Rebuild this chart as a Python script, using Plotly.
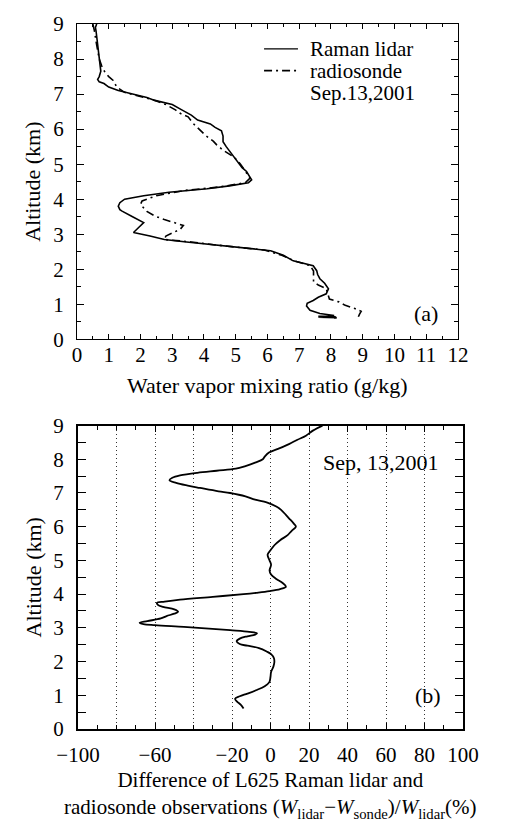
import plotly.graph_objects as go
from plotly.subplots import make_subplots

# ---- Panel (a): water vapor mixing ratio profiles ----
lidar_alt = [9.0, 8.9, 8.8, 8.6, 8.4, 8.2, 8.0, 7.8, 7.65, 7.5, 7.42, 7.35, 7.3, 7.2, 7.1,
             7.0, 6.9, 6.82, 6.7, 6.55, 6.4, 6.26, 6.15, 6.05, 5.95, 5.8, 5.64, 5.5, 5.36,
             5.2, 5.07, 4.9, 4.79, 4.65, 4.55, 4.47, 4.38, 4.3, 4.2, 4.1, 4.0, 3.9, 3.8,
             3.7, 3.66, 3.5, 3.33, 3.2, 3.05, 2.95, 2.85, 2.78, 2.72, 2.65, 2.58, 2.53,
             2.4, 2.24, 2.1, 1.96, 1.85, 1.73, 1.6, 1.44, 1.3, 1.2, 1.11, 1.03, 0.95,
             0.83, 0.74, 0.68, 0.66, 0.64, 0.63, 0.62, 0.61, 0.6]
lidar_wv = [0.62, 0.58, 0.60, 0.63, 0.66, 0.68, 0.70, 0.73, 0.75, 0.70, 0.65, 0.70, 0.85, 1.0, 1.3,
            1.75, 2.2, 2.45, 3.0, 3.3, 3.6, 3.8, 4.2, 4.35, 4.55, 4.6, 4.6, 4.7, 4.82,
            4.95, 5.05, 5.2, 5.34, 5.45, 5.5, 5.4, 4.8, 4.1, 2.9, 2.1, 1.5, 1.35, 1.3,
            1.35, 1.42, 1.75, 2.1, 1.95, 1.78, 2.3, 2.75, 3.45, 4.1, 4.9, 5.45, 6.1,
            6.5, 6.81, 7.44, 7.55, 7.58, 7.65, 7.8, 7.92, 7.85, 7.6, 7.44, 7.25, 7.23,
            7.34, 7.65, 8.1, 7.6, 8.15, 7.6, 8.18, 7.6, 8.1]

sonde_alt = [9.0, 8.8, 8.5, 8.2, 8.0, 7.8, 7.62, 7.5, 7.39, 7.2, 7.05, 6.95, 6.85, 6.7,
             6.55, 6.45, 6.35, 6.17, 6.0, 5.81, 5.65, 5.55, 5.4, 5.2, 5.0, 4.8, 4.6,
             4.47, 4.35, 4.25, 4.1, 3.95, 3.85, 3.65, 3.52, 3.42, 3.34, 3.25, 3.14,
             3.05, 2.95, 2.85, 2.78, 2.7, 2.62, 2.55, 2.4, 2.24, 2.1, 1.95, 1.8, 1.65,
             1.55, 1.45, 1.3, 1.15, 1.07, 0.97, 0.88, 0.8, 0.72, 0.64]
sonde_wv = [0.5, 0.55, 0.6, 0.65, 0.7, 0.78, 0.88, 1.0, 1.14, 1.25, 1.5, 1.9, 2.35, 2.8,
            3.1, 3.25, 3.5, 3.65, 3.85, 4.06, 4.3, 4.4, 4.6, 4.95, 5.15, 5.3, 5.45,
            5.3, 4.5, 3.4, 2.5, 2.05, 2.0, 2.2, 2.45, 2.75, 3.0, 3.35, 3.25,
            3.05, 2.8, 2.75, 3.6, 4.3, 5.2, 5.9, 6.45, 6.85, 7.35, 7.45, 7.45, 7.45,
            7.6, 7.85, 7.9, 7.95, 8.25, 8.45, 8.75, 8.95, 8.9, 8.86]

# ---- Panel (b): relative difference (%) ----
diff_alt = [9.0, 8.85, 8.7, 8.58, 8.45, 8.3, 8.2, 8.08, 8.0, 7.9, 7.8, 7.72, 7.66, 7.6,
            7.52, 7.45, 7.38, 7.3, 7.22, 7.15, 7.05, 7.0, 6.9, 6.8, 6.72, 6.6, 6.5,
            6.35, 6.25, 6.1, 6.0, 5.88, 5.75, 5.6, 5.45, 5.3, 5.17, 5.0, 4.87, 4.7,
            4.58, 4.45, 4.33, 4.22, 4.15, 4.09, 4.04, 4.0, 3.92, 3.84, 3.78, 3.74,
            3.68, 3.62, 3.55, 3.48, 3.42, 3.35, 3.28, 3.2, 3.15, 3.11, 3.08, 3.03,
            2.98, 2.93, 2.88, 2.84, 2.8, 2.75, 2.68, 2.6, 2.52, 2.47, 2.4, 2.3, 2.22,
            2.1, 1.98, 1.85, 1.69, 1.55, 1.39, 1.27, 1.15, 1.05, 0.97, 0.9, 0.82,
            0.72, 0.61]
diff_pct = [27, 22, 18.4, 14, 9.6, 3.5, -0.8, -3, -4, -8, -13, -18, -28, -38,
            -47, -51, -52.5, -49, -43, -36.6, -27, -21, -13, -8, -2, 3, 5.5,
            8, 9.6, 12, 13.2, 11, 8.9, 5, 2, 0, -1.5, -0.5, 0.3, -0.5,
            0.3, 3, 6.3, 8, 5, -0.6, -7.5, -14, -30, -47, -55, -59,
            -58.5, -55.8, -50, -48, -50, -54, -57, -64, -68, -66, -60, -45,
            -32, -21, -11, -7, -8, -12, -16, -17.6, -16, -12, -6, -2, 0.3,
            1.8, 2, 1.5, 0.3, 0, -0.6, -3, -7.5, -12, -16, -18.4, -17.5,
            -15.5, -14]

xticks_a = list(range(0, 13))
yticks = list(range(0, 10))
xticks_b = [-100, -60, -20, 0, 20, 40, 60, 80, 100]
xticktext_b = ["\u2212100", "\u221260", "\u221220", "0", "20", "40", "60", "80", "100"]
xgrid_b = [-80, -60, -40, -20, 0, 20, 40, 60, 80]

FONT = "Liberation Serif, Times New Roman, serif"
TICK = 21
TITLE = 22

fig = make_subplots(rows=2, cols=1)

fig.add_trace(go.Scatter(x=lidar_wv, y=lidar_alt, mode="lines", name="Raman lidar",
                         line=dict(color="black", width=1.6), showlegend=False), row=1, col=1)
fig.add_trace(go.Scatter(x=sonde_wv, y=sonde_alt, mode="lines", name="radiosonde",
                         line=dict(color="black", width=1.6, dash="8px,4px,2px,4px"),
                         showlegend=False), row=1, col=1)
# invisible copy on the overlay axis that only carries the dotted gridlines
fig.add_trace(go.Scatter(x=diff_pct, y=diff_alt, mode="lines", xaxis="x3", yaxis="y2",
                         line=dict(color="rgba(0,0,0,0)", width=0), hoverinfo="skip",
                         showlegend=False))
fig.add_trace(go.Scatter(x=diff_pct, y=diff_alt, mode="lines", line_shape="spline",
                         line=dict(color="black", width=1.8), showlegend=False), row=2, col=1)

axis_common = dict(showline=True, linecolor="black", mirror="allticks", ticks="inside",
                   tickcolor="black", zeroline=False,
                   tickfont=dict(family=FONT, size=TICK, color="black"))

fig.update_layout(
    width=512, height=822,
    margin=dict(l=77, r=49, t=18, b=93),
    paper_bgcolor="white", plot_bgcolor="white",
    font=dict(family=FONT, color="black"),
    xaxis=dict(domain=[0, 0.987], range=[0, 12], tickvals=xticks_a, ticklen=5, linewidth=1,
               showgrid=False, ticklabelstandoff=-4,
               minor=dict(dtick=0.5, ticklen=3, ticks="inside", tickcolor="black"),
               **axis_common),
    yaxis=dict(domain=[0.5527, 1.0], range=[0, 9], tickvals=yticks, ticklen=7, linewidth=1,
               showgrid=False, ticklabelstandoff=8,
               minor=dict(dtick=0.5, ticklen=4, ticks="inside", tickcolor="black"),
               title=dict(text="Altitude (km)", standoff=6, font=dict(family=FONT, size=TITLE)),
               **axis_common),
    xaxis2=dict(domain=[0.0026, 1.0], range=[-100, 100], tickvals=xticks_b, ticktext=xticktext_b,
                ticklen=6, linewidth=2, showgrid=False, ticklabelstandoff=6,
                minor=dict(dtick=10, ticklen=4, ticks="inside", tickcolor="black"),
                **axis_common),
    xaxis3=dict(domain=[0.0026, 1.0], range=[-100, 100], overlaying="x2", anchor="y2",
                tickvals=xgrid_b, showticklabels=False, ticks="", showline=False,
                showgrid=True, gridcolor="#333333", gridwidth=1, griddash="1px,3px",
                zeroline=False),
    yaxis2=dict(domain=[0, 0.4304], range=[0, 9], tickvals=yticks, ticklen=8, linewidth=2,
                showgrid=False, ticklabelstandoff=8,
                minor=dict(dtick=0.5, ticklen=5, ticks="inside", tickcolor="black"),
                title=dict(text="Altitude (km)", standoff=6, font=dict(family=FONT, size=TITLE)),
                **axis_common),
)

# x-axis titles as annotations (exact placement)
fig.add_annotation(text="Water vapor mixing ratio (g/kg)", xref="x domain", yref="y domain",
                   x=0.5, y=-0.145, xanchor="center", yanchor="middle", showarrow=False,
                   font=dict(family=FONT, size=TITLE, color="black"))
fig.add_annotation(text="Difference of L625 Raman lidar and<br>radiosonde observations "
                        "(<i>W</i><sub>lidar</sub>\u2212<i>W</i><sub>sonde</sub>)/<i>W</i><sub>lidar</sub>(%)",
                   xref="x2 domain", yref="y2 domain", x=0.5, y=-0.218,
                   xanchor="center", yanchor="middle", showarrow=False,
                   font=dict(family=FONT, size=21, color="black"))

# manual legend for panel (a)
fig.add_shape(type="line", xref="x domain", yref="y domain", x0=0.491, x1=0.58,
              y0=0.921, y1=0.921, line=dict(color="black", width=1.2))
fig.add_shape(type="line", xref="x domain", yref="y domain", x0=0.491, x1=0.58,
              y0=0.852, y1=0.852, line=dict(color="black", width=1.6, dash="8px,4px,2px,4px"))
for txt, yy in [("Raman lidar", 0.921), ("radiosonde", 0.852), ("Sep.13,2001", 0.78)]:
    fig.add_annotation(text=txt, xref="x domain", yref="y domain", x=0.607, y=yy,
                       xanchor="left", yanchor="middle", showarrow=False,
                       font=dict(family=FONT, size=21, color="black"))

fig.add_annotation(text="(a)", xref="x domain", yref="y domain", x=0.916, y=0.082,
                   xanchor="center", yanchor="middle", showarrow=False,
                   font=dict(family=FONT, size=22, color="black"))
fig.add_annotation(text="(b)", xref="x2 domain", yref="y2 domain", x=0.909, y=0.111,
                   xanchor="center", yanchor="middle", showarrow=False,
                   font=dict(family=FONT, size=22, color="black"))
fig.add_annotation(text="Sep, 13,2001", xref="x2 domain", yref="y2 domain", x=0.787, y=0.879,
                   xanchor="center", yanchor="middle", showarrow=False,
                   font=dict(family=FONT, size=22, color="black"))

# the page's default 8px body margin would push the 512x822 figure off the window
fig.write_html("out.html", config={"displayModeBar": False},
               post_script="document.body.style.margin='0';")
